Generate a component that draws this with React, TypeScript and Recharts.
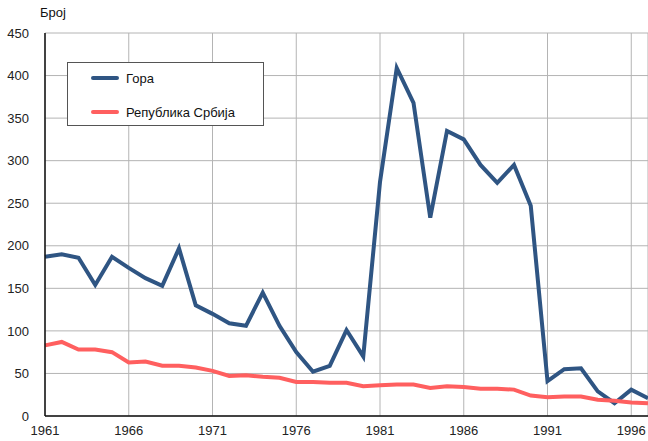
import { CartesianGrid, Line, LineChart, XAxis, YAxis } from "recharts";

const years = [
  1961, 1962, 1963, 1964, 1965, 1966, 1967, 1968, 1969, 1970, 1971, 1972, 1973, 1974, 1975, 1976, 1977, 1978, 1979,
  1980, 1981, 1982, 1983, 1984, 1985, 1986, 1987, 1988, 1989, 1990, 1991, 1992, 1993, 1994, 1995, 1996, 1997,
];
const gora = [
  187, 190, 186, 154, 187, 174, 162, 153, 197, 130, 120, 109, 106, 145, 106, 75, 52, 59, 101, 70, 275, 409, 368, 233,
  335, 325, 295, 274, 295, 247, 41, 55, 56, 29, 15, 31, 21,
];
const srbija = [
  83, 87, 78, 78, 75, 63, 64, 59, 59, 57, 53, 47, 48, 46, 45, 40, 40, 39, 39, 35, 36, 37, 37, 33, 35, 34, 32, 32, 31,
  24, 22, 23, 23, 19, 18, 16, 15,
];
const xTicks = [1961, 1966, 1971, 1976, 1981, 1986, 1991, 1996];
const yTicks = [0, 50, 100, 150, 200, 250, 300, 350, 400, 450];

const data = years.map((year, i) => ({ year, gora: gora[i], srbija: srbija[i] }));

const series = [
  { key: "gora", name: "Гора", color: "#2f5583" },
  { key: "srbija", name: "Република Србија", color: "#ff5f5f" },
];

const font = "'Liberation Sans', Arial, sans-serif";

function LegendBox() {
  return (
    <div
      style={{
        position: "absolute",
        left: 67,
        top: 62,
        width: 197,
        height: 64,
        border: "1px solid #555",
        background: "#fff",
        fontFamily: font,
        fontSize: 13,
        color: "#111",
        boxSizing: "border-box",
        paddingTop: 4,
      }}
    >
      {series.map((s) => (
        <div key={s.key} style={{ display: "flex", alignItems: "center", height: 22, marginBottom: 12 }}>
          <span
            style={{
              display: "inline-block",
              width: 28,
              height: 4,
              borderRadius: 2,
              background: s.color,
              marginLeft: 23,
              marginRight: 7,
            }}
          />
          {s.name}
        </div>
      ))}
    </div>
  );
}

export default function App() {
  return (
    <div style={{ position: "absolute", left: 0, top: 0, width: 648, height: 441, background: "#fff", overflow: "hidden" }}>
      <div style={{ position: "absolute", left: 40, top: 5, fontFamily: font, fontSize: 13, color: "#111" }}>Број</div>
      <LineChart width={648} height={441} data={data} margin={{ top: 33, right: 0, left: 0, bottom: 0 }}>
        <CartesianGrid stroke="#b4b4b4" strokeWidth={1} />
        <XAxis
          dataKey="year"
          type="number"
          domain={[1961, 1997]}
          ticks={xTicks}
          interval={0}
          height={25}
          tickLine={false}
          axisLine={{ stroke: "#111", strokeWidth: 1.5 }}
          tick={{ fill: "#222", fontSize: 13, fontFamily: font }}
          tickMargin={4}
        />
        <YAxis
          domain={[0, 450]}
          ticks={yTicks}
          interval={0}
          width={45}
          tickLine={false}
          axisLine={{ stroke: "#111", strokeWidth: 1.5 }}
          tick={{ fill: "#222", fontSize: 13, fontFamily: font }}
          tickMargin={10}
        />
        {series.map((s) => (
          <Line
            key={s.key}
            type="linear"
            dataKey={s.key}
            name={s.name}
            stroke={s.color}
            strokeWidth={4}
            dot={false}
            isAnimationActive={false}
          />
        ))}
      </LineChart>
      <LegendBox />
    </div>
  );
}
